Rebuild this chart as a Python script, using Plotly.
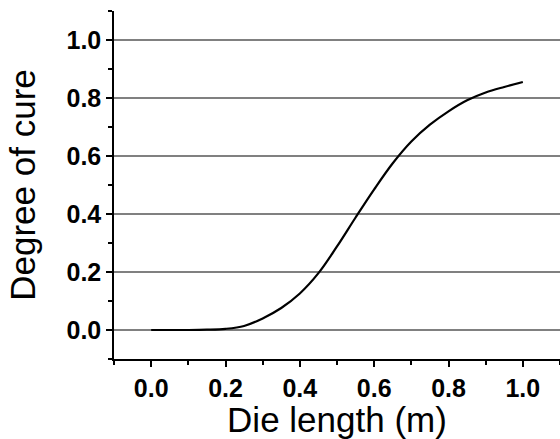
import plotly.graph_objects as go

die_length = [0.0, 0.1, 0.15, 0.2, 0.25, 0.3, 0.35, 0.4, 0.45, 0.5, 0.55, 0.6, 0.65, 0.7, 0.75, 0.8, 0.85, 0.9, 0.95, 1.0]
degree_of_cure = [0.0, 0.0, 0.001, 0.004, 0.014, 0.040, 0.076, 0.126, 0.196, 0.288, 0.388, 0.485, 0.575, 0.65, 0.708, 0.754, 0.792, 0.819, 0.838, 0.855]
tick_vals = [0.0, 0.2, 0.4, 0.6, 0.8, 1.0]
tick_text = ["0.0", "0.2", "0.4", "0.6", "0.8", "1.0"]

fig = go.Figure()
fig.add_trace(go.Scatter(x=die_length, y=degree_of_cure, mode="lines",
                         line=dict(color="black", width=2.2, shape="spline", smoothing=1.0),
                         showlegend=False))

tickfont = dict(family="Liberation Sans, Arial", size=25, color="black", weight="bold")
titlefont = dict(family="Liberation Sans, Arial", size=35, color="black")

fig.update_layout(
    width=560, height=439,
    margin=dict(l=114, r=0, t=11, b=80),
    plot_bgcolor="white", paper_bgcolor="white",
    xaxis=dict(range=[-0.1, 1.1], tickvals=tick_vals, ticktext=tick_text,
               showline=True, linecolor="black", linewidth=1.5,
               ticks="outside", ticklen=6, tickwidth=1.5, tickcolor="black",
               minor=dict(ticks="outside", ticklen=4, tickwidth=1.5, tickcolor="black", dtick=0.1, tick0=0, showgrid=False),
               showgrid=False, zeroline=False, tickfont=tickfont,
               title=dict(text="Die length (m)", font=titlefont, standoff=1),
               automargin=False),
    yaxis=dict(range=[-0.1, 1.1], tickvals=tick_vals, ticktext=tick_text,
               showline=True, linecolor="black", linewidth=1.5,
               ticks="outside", ticklen=6, tickwidth=1.5, tickcolor="black",
               minor=dict(ticks="outside", ticklen=4, tickwidth=1.5, tickcolor="black", dtick=0.1, tick0=0, showgrid=False),
               showgrid=True, gridcolor="#808080", gridwidth=1.5, zeroline=False, tickfont=tickfont,
               title=dict(text="Degree of cure", font=titlefont, standoff=20),
               automargin=False),
)

fig.write_html("out.html", config={"displayModeBar": False},
               post_script="document.body.style.margin='0';document.body.style.overflow='hidden';")
